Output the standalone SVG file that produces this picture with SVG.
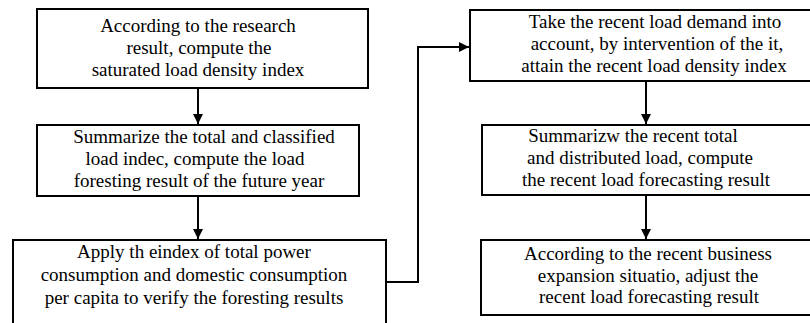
<svg xmlns="http://www.w3.org/2000/svg" width="810" height="323" viewBox="0 0 810 323">
<style>
.box{fill:#fff;stroke:#000;stroke-width:2}
.c{fill:none;stroke:#000;stroke-width:2}
.t{font-family:"Liberation Serif",serif;font-size:19px;text-anchor:middle;fill:#000}
</style>
<defs>
<marker id="ah" markerWidth="10" markerHeight="10" refX="10" refY="5" orient="auto" markerUnits="userSpaceOnUse" viewBox="0 0 10 10">
<path d="M0,0 L10,5 L0,10 Z" fill="#000"/>
</marker>
</defs>
<rect width="810" height="323" fill="#fff"/>
<g id="n1">
<rect class="box" x="37" y="9" width="331" height="79"/>
<text class="t" x="198" y="32">According to the research</text>
<text class="t" x="199" y="54">result, compute the</text>
<text class="t" x="198" y="76">saturated load density index</text>
</g>
<g id="n2">
<rect class="box" x="37" y="125" width="322" height="71"/>
<text class="t" x="204" y="143">Summarize the total and classified</text>
<text class="t" x="195" y="165">load indec, compute the load</text>
<text class="t" x="199" y="187">foresting result of the future year</text>
</g>
<g id="n3">
<rect class="box" x="13" y="240" width="373" height="90"/>
<text class="t" x="194" y="258">Apply th eindex of total power</text>
<text class="t" x="194" y="281">consumption and domestic consumption</text>
<text class="t" x="194" y="304">per capita to verify the foresting results</text>
</g>
<g id="n4">
<rect class="box" x="470" y="10" width="345" height="71"/>
<text class="t" x="655" y="28">Take the recent load demand into</text>
<text class="t" x="657" y="50">account, by intervention of the it,</text>
<text class="t" x="654" y="72">attain the recent load density index</text>
</g>
<g id="n5">
<rect class="box" x="482" y="125" width="333" height="70"/>
<text class="t" x="633" y="142">Summarizw the recent total</text>
<text class="t" x="640" y="164">and distributed load, compute</text>
<text class="t" x="646" y="186">the recent load forecasting result</text>
</g>
<g id="n6">
<rect class="box" x="481" y="240" width="334" height="75"/>
<text class="t" x="648" y="260">According to the recent business</text>
<text class="t" x="648" y="282">expansion situatio, adjust the</text>
<text class="t" x="649" y="303">recent load forecasting result</text>
</g>
<g id="connectors">
<path class="c" d="M198,88 V124" marker-end="url(#ah)"/>
<path class="c" d="M198,196 V239" marker-end="url(#ah)"/>
<path class="c" d="M386,282 H418 V47 H469" marker-end="url(#ah)"/>
<path class="c" d="M646,81 V124" marker-end="url(#ah)"/>
<path class="c" d="M646,195 V239" marker-end="url(#ah)"/>
</g>
</svg>
